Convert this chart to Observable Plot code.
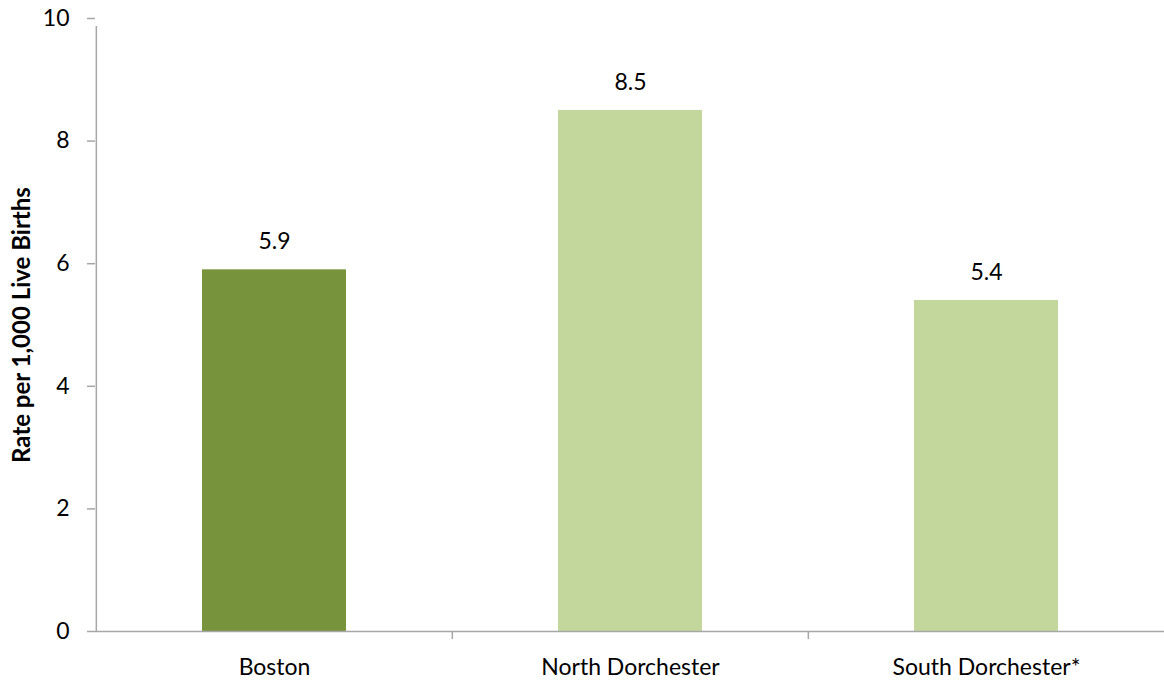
<!DOCTYPE html>
<html>
<head>
<meta charset="utf-8">
<script src="https://cdn.jsdelivr.net/npm/d3@7"></script>
<script src="https://cdn.jsdelivr.net/npm/@observablehq/plot@0.6"></script>
<style>
  html, body { margin: 0; padding: 0; background: #fff; overflow: hidden; }
  svg { display: block; }
</style>
</head>
<body>
<div id="chart"></div>
<script>
const categories = ["Boston", "North Dorchester", "South Dorchester*"];
const values = [5.9, 8.5, 5.4];
const barColors = ["#77933C", "#C3D69B", "#C3D69B"];
const yTicks = [0, 2, 4, 6, 8, 10];
const yLabel = "Rate per 1,000 Live Births";

const data = categories.map((c, i) => ({category: c, value: values[i], color: barColors[i]}));

const width = 1164, height = 680;
const marginLeft = 95, marginRight = 0, marginTop = 18, marginBottom = 49;
const step = (width - marginLeft - marginRight) / categories.length;
const axisColor = "#a6a6a6";
const font = "Lato, 'Open Sans', sans-serif";
const fs = 23;

const chart = Plot.plot({
  width, height, marginLeft, marginRight, marginTop, marginBottom,
  style: {fontFamily: font, fontSize: fs + "px", color: "#000", background: "#fff", overflow: "visible"},
  x: {domain: categories, paddingInner: 0.596, paddingOuter: 0.298, align: 0.5},
  y: {domain: [0, 10]},
  marks: [
    Plot.barY(data, {x: "category", y: "value", fill: "color"}),
    Plot.text(data, {x: "category", y: "value", text: d => d.value.toFixed(1), dy: -28, fontSize: fs, fill: "#000"}),
    Plot.ruleY([0], {stroke: axisColor, strokeWidth: 1.5}),
    // y axis line (left boundary of first band), extended below baseline
    Plot.ruleX([categories[0]], {x: d => d, y1: 0, y2: 10, dx: -step / 2, insetBottom: -8, stroke: axisColor, strokeWidth: 1.5}),
    // category boundary ticks
    Plot.ruleX(categories.slice(1), {x: d => d, y1: 0, y2: 0, dx: -step / 2, insetBottom: -8, stroke: axisColor, strokeWidth: 1.5}),
    Plot.axisY({ticks: yTicks, tickSize: 8, tickPadding: 18, stroke: axisColor, strokeWidth: 1.5, label: null, fontSize: fs, fill: "#000"}),
    Plot.axisX({tickSize: 0, tickPadding: 27, label: null, fontSize: fs, fill: "#000"}),
    Plot.text([yLabel], {frameAnchor: "left", textAnchor: "middle", dx: -73, rotate: -90, fontWeight: "bold", fontSize: 24, fill: "#000"})
  ]
});
document.getElementById("chart").appendChild(chart);
</script>
</body>
</html>
